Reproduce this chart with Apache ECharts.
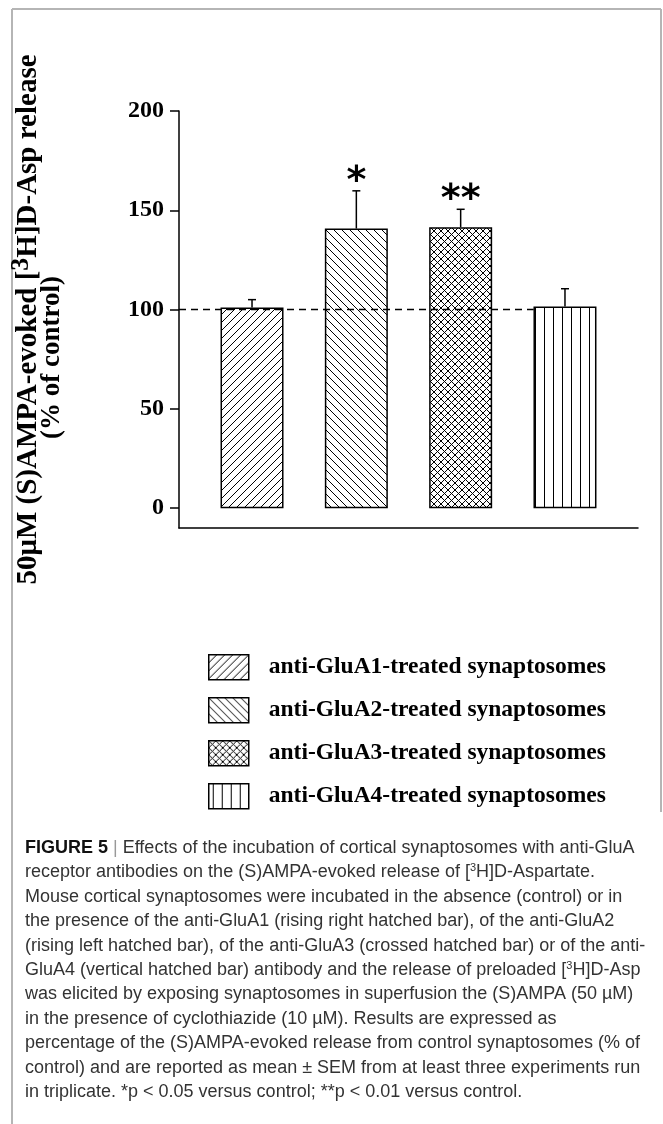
<!DOCTYPE html>
<html>
<head>
<meta charset="utf-8">
<script src="https://cdn.jsdelivr.net/npm/echarts@6/dist/echarts.min.js"></script>
<style>
html,body{margin:0;padding:0;background:#fff;}
#chart{width:663px;height:1124px;}
</style>
</head>
<body>
<div id="chart"></div>
<script>
// ---- data ----
const categories = [
  'anti-GluA1-treated synaptosomes',
  'anti-GluA2-treated synaptosomes',
  'anti-GluA3-treated synaptosomes',
  'anti-GluA4-treated synaptosomes'
];
const xPositions = [1, 2, 3, 4];
const meanValues = [101, 140.8, 141.5, 101.5];
const semValues = [4, 19, 9, 9];
const significance = ['', '*', '**', ''];
const yTickValues = [0, 50, 100, 150, 200];
const controlLevel = 100;
const hatchTypes = ['right', 'left', 'cross', 'vertical'];
const captionLines = [
  '{b|FIGURE 5} {bar|| }Effects of the incubation of cortical synaptosomes with anti-GluA',
  'receptor antibodies on the (S)AMPA-evoked release of [{s|3}H]D-Aspartate.',
  'Mouse cortical synaptosomes were incubated in the absence (control) or in',
  'the presence of the anti-GluA1 (rising right hatched bar), of the anti-GluA2',
  '(rising left hatched bar), of the anti-GluA3 (crossed hatched bar) or of the anti-',
  'GluA4 (vertical hatched bar) antibody and the release of preloaded [{s|3}H]D-Asp',
  'was elicited by exposing synaptosomes in superfusion the (S)AMPA (50 µM)',
  'in the presence of cyclothiazide (10 µM). Results are expressed as',
  'percentage of the (S)AMPA-evoked release from control synaptosomes (% of',
  'control) and are reported as mean ± SEM from at least three experiments run',
  'in triplicate. *p < 0.05 versus control; **p < 0.01 versus control.'
];

// ---- hatch patterns ----
function hatch(type) {
  const size = type === 'vertical' ? 9 : (type === 'cross' ? 7 : 8);
  const c = document.createElement('canvas');
  c.width = size; c.height = size;
  const g = c.getContext('2d');
  g.fillStyle = '#fff'; g.fillRect(0, 0, size, size);
  g.strokeStyle = '#000'; g.lineWidth = 1;
  g.beginPath();
  if (type === 'right' || type === 'cross') {
    for (let k = -1; k <= 1; k++) { g.moveTo(k * size, size); g.lineTo(k * size + size, 0); }
  }
  if (type === 'left' || type === 'cross') {
    for (let k = -1; k <= 1; k++) { g.moveTo(k * size, 0); g.lineTo(k * size + size, size); }
  }
  if (type === 'vertical') { g.moveTo(4.5, 0); g.lineTo(4.5, size); }
  g.stroke();
  return c;
}

const serif = '"Liberation Serif","Times New Roman",serif';
const sans = '"Liberation Sans",Arial,sans-serif';
const chart = echarts.init(document.getElementById('chart'), null, {renderer: 'canvas'});

const patterns = hatchTypes.map(t => ({image: hatch(t), repeat: 'repeat'}));

const barSeries = categories.map((name, i) => ({
  type: 'bar',
  name: name,
  data: [[xPositions[i], meanValues[i]]],
  barWidth: 63,
  barGap: '-100%',
  z: 2,
  itemStyle: {
    color: patterns[i],
    borderColor: '#000',
    borderWidth: 1.5
  }
}));

const errData = xPositions.map((x, i) => [x, meanValues[i], meanValues[i] + semValues[i], i]);

const option = {
  backgroundColor: '#fff',
  animation: false,
  grid: {left: 177, right: 25, top: 111, bottom: 596, containLabel: false},
  xAxis: {
    type: 'value', min: 0.3, max: 4.7,
    axisLine: {show: true, onZero: false, lineStyle: {color: '#000', width: 1.5}},
    axisTick: {show: false}, axisLabel: {show: false}, splitLine: {show: false}
  },
  yAxis: {
    type: 'value', min: -10, max: 200,
    axisLine: {show: true, lineStyle: {color: '#000', width: 1.5}},
    axisTick: {show: true, length: 9, customValues: yTickValues, lineStyle: {color: '#000', width: 1.5}},
    axisLabel: {customValues: yTickValues, margin: 15, color: '#000', fontFamily: serif, fontWeight: 'bold', fontSize: 24},
    splitLine: {show: false},
    name: '{a|50μM (S)AMPA-evoked [}{s|3}{a|H]D-Asp release}\n{b|(% of control)}',
    nameLocation: 'middle',
    nameRotate: 90,
    nameGap: 116,
    nameTextStyle: {
      color: '#000',
      rich: {
        a: {fontFamily: serif, fontWeight: 'bold', fontSize: 29, lineHeight: 24, color: '#000'},
        s: {fontFamily: serif, fontWeight: 'bold', fontSize: 26, lineHeight: 24, padding: [0, 0, 16, 0], color: '#000'},
        b: {fontFamily: serif, fontWeight: 'bold', fontSize: 27, lineHeight: 22, padding: [0, 76, 0, 0], color: '#000'}
      }
    }
  },
  legend: {
    data: categories.map((n, i) => ({name: n, itemStyle: {color: patterns[i], borderColor: '#000', borderWidth: 1.5}})),
    orient: 'vertical',
    left: 208, top: 654,
    itemWidth: 40, itemHeight: 25, itemGap: 16.5,
    padding: 0,
    icon: 'rect',
    textStyle: {fontFamily: serif, fontWeight: 'bold', fontSize: 23.5, lineHeight: 25, color: '#000', padding: [0, 0, 0, 15]}
  },
  series: barSeries.concat([
    {
      type: 'line', name: 'control', data: [[0.3, controlLevel], [3.7, controlLevel]],
      symbol: 'none', z: 4, silent: true,
      lineStyle: {color: '#000', width: 1.5, type: [7, 5]}
    },
    {
      type: 'custom', name: 'sem', data: errData, z: 5, silent: true,
      encode: {x: 0, y: [1, 2]},
      renderItem: function (params, api) {
        const x = api.value(0);
        const base = api.coord([x, api.value(1)]);
        const top = api.coord([x, api.value(2)]);
        const idx = api.value(3);
        const children = [
          {type: 'line', shape: {x1: base[0], y1: base[1], x2: top[0], y2: top[1]}, style: {stroke: '#000', lineWidth: 1.5}},
          {type: 'line', shape: {x1: top[0] - 4, y1: top[1], x2: top[0] + 4, y2: top[1]}, style: {stroke: '#000', lineWidth: 1.5}}
        ];
        if (significance[idx]) {
          children.push({type: 'text', style: {
            text: significance[idx], x: top[0], y: top[1] + 10,
            align: 'center', verticalAlign: 'bottom',
            font: 'bold 38px "DejaVu Sans"', fill: '#000'
          }});
        }
        return {type: 'group', children: children};
      }
    }
  ]),
  graphic: [
    {type: 'line', shape: {x1: 12, y1: 9, x2: 661, y2: 9}, style: {stroke: '#b5b5b5', lineWidth: 2}},
    {type: 'line', shape: {x1: 12, y1: 9, x2: 12, y2: 1124}, style: {stroke: '#b5b5b5', lineWidth: 2}},
    {type: 'line', shape: {x1: 661, y1: 9, x2: 661, y2: 812}, style: {stroke: '#b5b5b5', lineWidth: 2}}
  ].concat(captionLines.map((t, i) => ({
    type: 'text', x: 25, y: 848 + i * 24.4,
    style: {
      text: t, fontFamily: sans, fontSize: 18, fill: '#333', verticalAlign: 'middle',
      rich: {
        b: {fontFamily: sans, fontWeight: 'bold', fontSize: 18, fill: '#111'},
        bar: {fontFamily: sans, fontSize: 18, fill: '#999'},
        s: {fontFamily: sans, fontSize: 11, padding: [0, 0, 9, 0], fill: '#333'}
      }
    }
  })))
};
chart.setOption(option);
</script>
</body>
</html>
